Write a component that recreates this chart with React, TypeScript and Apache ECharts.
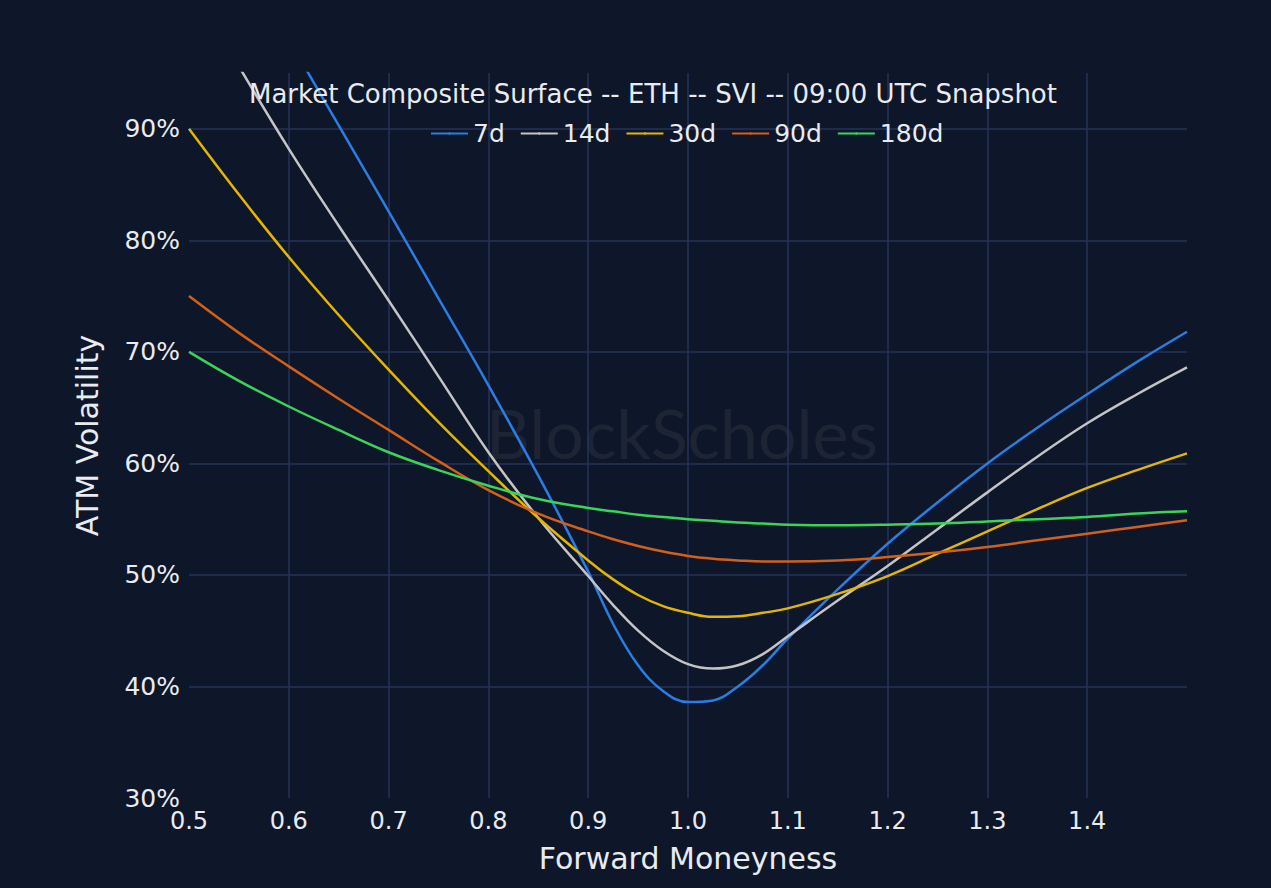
import React, { useEffect, useRef } from "react";
import * as echarts from "echarts";

const moneyness = [0.5, 0.55, 0.6, 0.65, 0.7, 0.75, 0.8, 0.85, 0.9, 0.925, 0.95, 0.975, 1.0, 1.025, 1.05, 1.075, 1.1, 1.15, 1.2, 1.25, 1.3, 1.35, 1.4, 1.45, 1.5];

const vol7d = [null, null, 98.0, 90.3, 82.6, 74.8, 67.0, 58.9, 50.3, 45.6, 41.9, 39.6, 38.6, 38.75, 40.0, 41.9, 44.3, 48.7, 52.8, 56.5, 60.0, 63.2, 66.2, 69.1, 71.8];
const vol14d = [null, 95.6, 88.2, 81.3, 74.6, 67.8, 61.0, 55.1, 49.9, 47.3, 45.0, 43.2, 42.0, 41.6, 41.9, 42.9, 44.5, 47.7, 50.8, 54.1, 57.4, 60.6, 63.6, 66.2, 68.6];
const vol30d = [90.0, 84.1, 78.5, 73.3, 68.4, 63.7, 59.3, 55.1, 51.3, 49.6, 48.2, 47.2, 46.6, 46.25, 46.3, 46.6, 47.0, 48.3, 49.9, 51.9, 53.9, 55.9, 57.8, 59.4, 60.9];
const vol90d = [75.0, 71.7, 68.7, 65.8, 63.0, 60.2, 57.6, 55.5, 53.9, 53.2, 52.6, 52.1, 51.7, 51.45, 51.3, 51.2, 51.2, 51.3, 51.6, 52.0, 52.5, 53.1, 53.7, 54.3, 54.9];
const vol180d = [70.0, 67.4, 65.1, 63.0, 61.0, 59.4, 58.0, 56.8, 56.0, 55.7, 55.4, 55.2, 55.0, 54.85, 54.7, 54.6, 54.5, 54.45, 54.5, 54.6, 54.8, 55.0, 55.2, 55.5, 55.7];

const seriesNames = ["7d", "14d", "30d", "90d", "180d"];
const seriesColors = ["#2b7de3", "#c4c4c4", "#e3b505", "#d2601b", "#3bd45a"];
const seriesValues = [vol7d, vol14d, vol30d, vol90d, vol180d];

const titleText = "Market Composite Surface -- ETH -- SVI -- 09:00 UTC Snapshot";
const watermarkText = "BlockScholes";

export default function App() {
  const ref = useRef<HTMLDivElement>(null);
  useEffect(() => {
    document.body.style.margin = "0";
    const chart = echarts.init(ref.current!, null, { renderer: "svg" });
    const font = "'DejaVu Sans', Verdana, sans-serif";
    const textColor = "#e9ebef";
    const gridColor = "#24335a";
    chart.setOption({
      animation: false,
      backgroundColor: "#0e1729",
      textStyle: { fontFamily: font },
      title: {
        text: titleText,
        left: 244,
        top: 76,
        textStyle: { color: textColor, fontSize: 26, fontWeight: "normal", fontFamily: font },
      },
      legend: {
        data: seriesNames,
        left: 425,
        top: 116,
        itemWidth: 37,
        itemHeight: 3,
        itemGap: 15,
        textStyle: { color: textColor, fontSize: 25, fontFamily: font },
      },
      graphic: [
        {
          type: "text",
          left: 486,
          top: 398,
          z: 0,
          style: {
            text: watermarkText,
            fill: "#1d2434",
            font: "68px Lato, 'Open Sans', sans-serif",
          },
        },
      ],
      grid: { left: 189, right: 84, top: 73, bottom: 90, containLabel: false },
      xAxis: {
        type: "value",
        min: 0.5,
        max: 1.5,
        interval: 0.1,
        name: "Forward Moneyness",
        nameLocation: "middle",
        nameGap: 45,
        nameTextStyle: { color: textColor, fontSize: 30, fontFamily: font },
        axisLine: { show: false },
        axisTick: { show: false },
        axisLabel: {
          color: textColor,
          fontSize: 24,
          margin: 11,
          showMaxLabel: false,
          formatter: (v: number) => v.toFixed(1),
        },
        splitLine: { show: true, showMinLine: false, showMaxLine: false, lineStyle: { color: gridColor, width: 1.5 } },
      },
      yAxis: {
        type: "value",
        min: 30,
        max: 95,
        interval: 10,
        name: "ATM Volatility",
        nameLocation: "middle",
        nameGap: 87,
        nameRotate: 90,
        nameTextStyle: { color: textColor, fontSize: 30, fontFamily: font },
        axisLine: { show: false },
        axisTick: { show: false },
        axisLabel: {
          color: textColor,
          fontSize: 25,
          margin: 9,
          showMaxLabel: false,
          formatter: (v: number) => `${Math.round(v)}%`,
        },
        splitLine: { show: true, showMinLine: false, showMaxLine: false, lineStyle: { color: gridColor, width: 1.5 } },
      },
      series: seriesNames.map((name, i) => ({
        name,
        type: "line",
        smooth: 0.4,
        showSymbol: false,
        symbol: "none",
        connectNulls: false,
        clip: true,
        color: seriesColors[i],
        lineStyle: { color: seriesColors[i], width: 2.5 },
        data: moneyness.map((m, j) => [m, seriesValues[i][j]]),
        z: 3,
      })),
    });
    return () => chart.dispose();
  }, []);
  return <div ref={ref} style={{ width: 1271, height: 888 }} />;
}
